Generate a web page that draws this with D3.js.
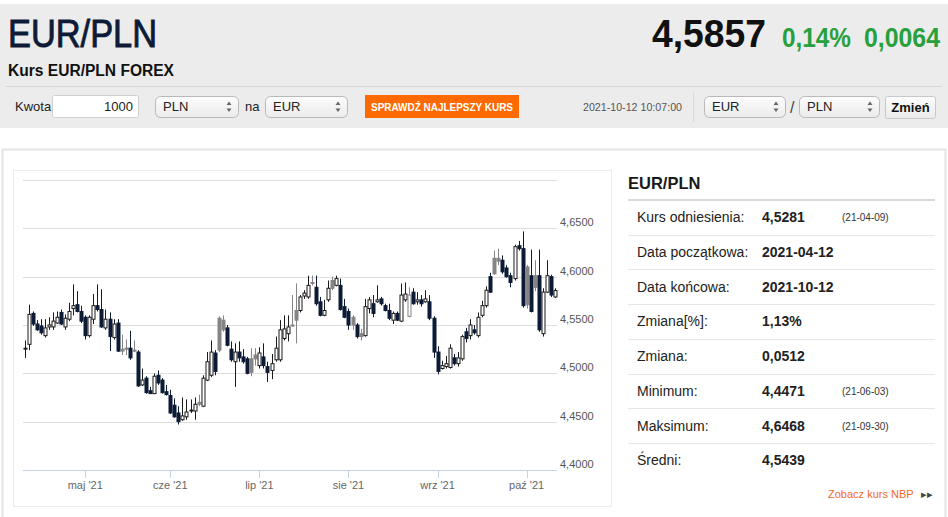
<!DOCTYPE html>
<html><head><meta charset="utf-8">
<script src="https://cdn.jsdelivr.net/npm/d3@7"></script>
<style>html,body{margin:0;padding:0;background:#fff;}svg{display:block;font-family:"Liberation Sans",Arial,sans-serif;}</style>
</head><body><svg id="c" width="948" height="517"></svg>
<script>
// ---------- data ----------
const firstDay = "2021-04-12", lastDay = "2021-10-12";
const openV = [4.525,4.530,4.562,4.551,4.549,4.539,4.548,4.548,4.552,4.563,
4.548,4.556,4.567,4.571,4.564,4.558,4.539,4.556,4.570,4.566,
4.547,4.556,4.537,4.552,4.525,4.526,4.526,4.524,4.522,4.488,
4.495,4.482,4.479,4.498,4.493,4.481,4.477,4.467,4.459,4.452,
4.455,4.461,4.461,4.470,4.466,4.493,4.498,4.521,4.557,4.555,
4.547,4.525,4.512,4.522,4.517,4.515,4.515,4.519,4.508,4.517,
4.507,4.503,4.514,4.514,4.536,4.541,4.550,4.565,4.565,4.580,
4.579,4.594,4.589,4.574,4.560,4.576,4.596,4.591,4.591,4.569,
4.564,4.558,4.550,4.541,4.539,4.567,4.572,4.574,4.577,4.570,
4.565,4.555,4.562,4.554,4.576,4.559,4.584,4.574,4.576,4.574,
4.574,4.557,4.522,4.505,4.507,4.506,4.516,4.510,4.515,4.543,
4.539,4.545,4.539,4.560,4.570,4.600,4.619,4.619,4.617,4.609,
4.601,4.598,4.632,4.629,4.610,4.601,4.601,4.601,4.541,4.584,
4.600,4.579];
const highV = [4.534,4.571,4.564,4.555,4.556,4.556,4.558,4.563,4.564,4.566,
4.561,4.573,4.592,4.585,4.570,4.560,4.560,4.582,4.592,4.587,
4.566,4.563,4.556,4.556,4.540,4.535,4.544,4.534,4.524,4.505,
4.497,4.486,4.500,4.503,4.495,4.488,4.483,4.474,4.466,4.475,
4.473,4.473,4.475,4.478,4.498,4.522,4.534,4.524,4.559,4.560,
4.550,4.533,4.531,4.533,4.525,4.517,4.526,4.526,4.527,4.531,
4.512,4.520,4.538,4.555,4.560,4.560,4.581,4.593,4.581,4.586,
4.601,4.601,4.601,4.579,4.576,4.596,4.600,4.601,4.598,4.577,
4.567,4.560,4.552,4.546,4.577,4.579,4.581,4.591,4.579,4.572,
4.572,4.564,4.564,4.593,4.594,4.589,4.588,4.584,4.581,4.586,
4.581,4.559,4.528,4.513,4.518,4.530,4.520,4.522,4.540,4.547,
4.556,4.550,4.563,4.575,4.590,4.604,4.627,4.629,4.622,4.612,
4.604,4.633,4.637,4.6468,4.612,4.628,4.617,4.628,4.588,4.617,
4.602,4.588];
const lowV = [4.516,4.524,4.549,4.544,4.540,4.537,4.545,4.545,4.551,4.550,
4.545,4.554,4.560,4.563,4.552,4.535,4.537,4.551,4.564,4.547,
4.545,4.523,4.535,4.522,4.519,4.519,4.514,4.522,4.486,4.487,
4.479,4.479,4.479,4.488,4.479,4.477,4.458,4.454,4.4471,4.451,
4.452,4.459,4.452,4.466,4.465,4.492,4.496,4.498,4.522,4.543,
4.528,4.512,4.486,4.512,4.510,4.499,4.497,4.508,4.505,4.505,
4.491,4.494,4.512,4.512,4.534,4.533,4.548,4.531,4.563,4.577,
4.577,4.591,4.570,4.559,4.559,4.574,4.586,4.590,4.565,4.557,
4.545,4.545,4.536,4.534,4.538,4.562,4.558,4.573,4.570,4.564,
4.555,4.551,4.554,4.553,4.574,4.558,4.571,4.571,4.569,4.573,
4.555,4.516,4.499,4.504,4.505,4.505,4.508,4.507,4.513,4.532,
4.535,4.540,4.537,4.558,4.568,4.583,4.602,4.612,4.603,4.599,
4.589,4.596,4.627,4.568,4.567,4.563,4.585,4.543,4.538,4.583,
4.579,4.578];
const closeV = [4.526,4.561,4.551,4.545,4.542,4.547,4.550,4.554,4.558,4.551,
4.557,4.564,4.570,4.564,4.554,4.539,4.558,4.570,4.566,4.548,
4.556,4.538,4.551,4.523,4.523,4.525,4.516,4.523,4.487,4.493,
4.480,4.479,4.497,4.490,4.480,4.478,4.459,4.455,4.450,4.456,
4.460,4.462,4.468,4.468,4.495,4.512,4.522,4.502,4.524,4.545,
4.529,4.514,4.522,4.516,4.512,4.500,4.501,4.515,4.521,4.508,
4.501,4.510,4.526,4.545,4.546,4.548,4.549,4.555,4.579,4.583,
4.591,4.593,4.572,4.560,4.565,4.588,4.588,4.598,4.566,4.558,
4.550,4.550,4.538,4.538,4.569,4.576,4.562,4.576,4.572,4.565,
4.557,4.562,4.555,4.581,4.582,4.581,4.572,4.576,4.572,4.577,
4.557,4.522,4.502,4.508,4.510,4.526,4.510,4.516,4.538,4.536,
4.550,4.542,4.558,4.570,4.586,4.584,4.603,4.616,4.605,4.600,
4.594,4.631,4.629,4.570,4.571,4.564,4.589,4.545,4.584,4.601,
4.581,4.5857];
const gridValues = [4.40,4.45,4.50,4.55,4.60,4.65,4.70];
const labeledValues = [4.40,4.45,4.50,4.55,4.60,4.65];
const monthTickDates = ["2021-05-03","2021-06-01","2021-07-01","2021-08-02","2021-09-01","2021-10-01"];
const monthTickLabels = ["maj '21","cze '21","lip '21","sie '21","wrz '21","paź '21"];
const statLabels = ["Kurs odniesienia:","Data początkowa:","Data końcowa:","Zmiana[%]:","Zmiana:","Minimum:","Maksimum:","Średni:"];
const statValues = ["4,5281","2021-04-12","2021-10-12","1,13%","0,0512","4,4471","4,6468","4,5439"];
const statDates = ["(21-04-09)","","","","","(21-06-03)","(21-09-30)",""];

// ---------- setup ----------
const svg = d3.select("#c");
const fmtDay = d3.timeFormat("%Y-%m-%d"), parseDay = d3.timeParse("%Y-%m-%d");
const days = d3.timeDay.range(parseDay(firstDay), d3.timeDay.offset(parseDay(lastDay),1))
  .filter(d => d.getDay() !== 0 && d.getDay() !== 6).map(fmtDay);
const candles = days.map((d,i) => ({d, o:openV[i], h:highV[i], l:lowV[i], c:closeV[i], pc: i ? closeV[i-1] : openV[i]}));
const pl = d3.formatLocale({decimal:",", thousands:" ", grouping:[3], currency:["",""]});
const f4 = pl.format(".4f");

// ---------- header ----------
svg.append("rect").attr("x",0).attr("y",4).attr("width",948).attr("height",124).attr("fill","#ececec");
const narrow = '"Liberation Sans Narrow","Liberation Sans",Arial,sans-serif';
svg.append("text").attr("x",8).attr("y",47).attr("font-family",narrow).attr("font-size",39)
  .attr("fill","#0d1b38").attr("stroke","#0d1b38").attr("stroke-width",0.9)
  .attr("textLength",149).attr("lengthAdjust","spacingAndGlyphs").text("EUR/PLN");
svg.append("text").attr("x",8).attr("y",76).attr("font-family",narrow).attr("font-weight","bold").attr("font-size",16)
  .attr("fill","#111").attr("textLength",166).attr("lengthAdjust","spacingAndGlyphs").text("Kurs EUR/PLN FOREX");
svg.append("text").attr("x",652).attr("y",47).attr("font-family",narrow).attr("font-weight","bold").attr("font-size",39)
  .attr("fill","#111").attr("textLength",114).attr("lengthAdjust","spacingAndGlyphs").text("4,5857");
svg.append("text").attr("x",782).attr("y",47).attr("font-family",narrow).attr("font-weight","bold").attr("font-size",27)
  .attr("fill","#27a03d").attr("textLength",69).attr("lengthAdjust","spacingAndGlyphs").text("0,14%");
svg.append("text").attr("x",864).attr("y",47).attr("font-family",narrow).attr("font-weight","bold").attr("font-size",27)
  .attr("fill","#27a03d").attr("textLength",76).attr("lengthAdjust","spacingAndGlyphs").text("0,0064");
svg.append("line").attr("x1",6).attr("x2",942).attr("y1",86.5).attr("y2",86.5).attr("stroke","#d6d6d6");

// form row
const defs = svg.append("defs");
const lg = defs.append("linearGradient").attr("id","sg").attr("x1",0).attr("x2",0).attr("y1",0).attr("y2",1);
lg.append("stop").attr("offset","0").attr("stop-color","#fdfdfd");
lg.append("stop").attr("offset","1").attr("stop-color","#ebebeb");
svg.append("text").attr("x",15).attr("y",111).attr("font-family",narrow).attr("font-size",13).attr("fill","#222").text("Kwota");
svg.append("rect").attr("x",52.5).attr("y",95.5).attr("width",86).attr("height",22).attr("rx",2).attr("fill","#fff").attr("stroke","#cfcfcf");
svg.append("text").attr("x",133).attr("y",111).attr("text-anchor","end").attr("font-family",narrow).attr("font-size",13).attr("fill","#222").text("1000");
function selectBox(x, w, label){
  const g = svg.append("g");
  g.append("rect").attr("x",x+0.5).attr("y",96.5).attr("width",w).attr("height",21).attr("rx",5)
    .attr("fill","url(#sg)").attr("stroke","#b9b9b9");
  g.append("text").attr("x",x+8).attr("y",111).attr("font-family",narrow).attr("font-size",13).attr("fill","#222").text(label);
  const ax = x + w - 9;
  g.append("path").attr("d",`M${ax-2.5},105 L${ax},101.5 L${ax+2.5},105 Z M${ax-2.5},108.5 L${ax},112 L${ax+2.5},108.5 Z`).attr("fill","#666");
}
selectBox(155, 83, "PLN");
svg.append("text").attr("x",245).attr("y",111).attr("font-family",narrow).attr("font-size",13).attr("fill","#222").text("na");
selectBox(265, 82, "EUR");
svg.append("rect").attr("x",365).attr("y",95).attr("width",154).attr("height",23).attr("fill","#ff6a00");
svg.append("text").attr("x",442).attr("y",110.5).attr("text-anchor","middle").attr("font-family",narrow).attr("font-weight","bold")
  .attr("font-size",11).attr("fill","#fff").attr("textLength",142).attr("lengthAdjust","spacingAndGlyphs").text("SPRAWDŹ NAJLEPSZY KURS");
svg.append("text").attr("x",583).attr("y",111).attr("font-family",narrow).attr("font-size",11.5).attr("fill","#555")
  .attr("textLength",99).attr("lengthAdjust","spacingAndGlyphs").text("2021-10-12 10:07:00");
svg.append("line").attr("x1",693.5).attr("x2",693.5).attr("y1",92).attr("y2",122).attr("stroke","#d9d9d9");
selectBox(704, 81, "EUR");
svg.append("text").attr("x",790).attr("y",113).attr("font-family",narrow).attr("font-size",16).attr("fill","#444").text("/");
selectBox(799, 80, "PLN");
svg.append("rect").attr("x",885.5).attr("y",96.5).attr("width",50).attr("height",22).attr("rx",2).attr("fill","url(#sg)").attr("stroke","#c8c8c8");
svg.append("text").attr("x",910.5).attr("y",112).attr("text-anchor","middle").attr("font-family",narrow).attr("font-weight","bold")
  .attr("font-size",13).attr("fill","#111").text("Zmień");

// ---------- content frame ----------
svg.append("rect").attr("x",2.5).attr("y",149.5).attr("width",943).attr("height",380).attr("fill","#fff").attr("stroke","#e4e4e4").attr("stroke-width",2);
svg.append("rect").attr("x",13.5).attr("y",170.5).attr("width",598).attr("height",336).attr("fill","#fff").attr("stroke","#ebebeb");

// ---------- chart ----------
const x = d3.scalePoint().domain(days).range([24.5, 555]);
const y = d3.scaleLinear().domain([4.40, 4.70]).range([470, 180]);
const plotL = 23, plotR = 557;

svg.append("g").selectAll("line").data(gridValues).join("line")
  .attr("x1",plotL).attr("x2",plotR).attr("y1",d=>Math.round(y(d))+0.5).attr("y2",d=>Math.round(y(d))+0.5)
  .attr("stroke","#dedede").attr("stroke-width",1);

svg.append("g").selectAll("text").data(labeledValues).join("text")
  .attr("x",560).attr("y",d=>y(d)-2).attr("font-size",11).attr("fill","#555").text(d=>f4(d));

// x axis
svg.append("line").attr("x1",plotL).attr("x2",plotR).attr("y1",470.5).attr("y2",470.5).attr("stroke","#c4d2e2");
const xt = svg.append("g");
xt.selectAll("line").data(monthTickDates).join("line")
  .attr("x1",d=>Math.round(x(d))+0.5).attr("x2",d=>Math.round(x(d))+0.5).attr("y1",470).attr("y2",478).attr("stroke","#c4d2e2");
xt.selectAll("text").data(monthTickDates).join("text")
  .attr("x",d=>x(d)).attr("y",489).attr("text-anchor","middle").attr("font-size",11).attr("fill","#666")
  .text((d,i)=>monthTickLabels[i]);

// candles
const NAVY = "#0c1b36", GRAY = "#858585", BLACK = "#1b1b1b";
function style(k){
  const up = k.c >= k.o, riseVsPrev = k.c >= k.pc;
  if (up) return {fill:"#fff", stroke: riseVsPrev ? BLACK : GRAY};
  return {fill: riseVsPrev ? GRAY : NAVY, stroke: riseVsPrev ? GRAY : NAVY};
}
const cg = svg.append("g").selectAll("g").data(candles).join("g");
cg.append("line")
  .attr("x1",k=>Math.round(x(k.d))+0.5).attr("x2",k=>Math.round(x(k.d))+0.5)
  .attr("y1",k=>y(k.h)).attr("y2",k=>y(k.l))
  .attr("stroke",k=>style(k).stroke).attr("stroke-width",1);
cg.append("rect")
  .attr("x",k=>Math.round(x(k.d))-1)
  .attr("width",3)
  .attr("y",k=>y(Math.max(k.o,k.c)))
  .attr("height",k=>Math.max(1, Math.abs(y(k.o)-y(k.c))))
  .attr("fill",k=>style(k).fill).attr("stroke",k=>style(k).stroke).attr("stroke-width",1);

// ---------- stats panel ----------
svg.append("text").attr("x",628).attr("y",189).attr("font-size",16.5).attr("font-weight","bold").attr("fill","#1a1a1a").text("EUR/PLN");
svg.append("line").attr("x1",628).attr("x2",935).attr("y1",200).attr("y2",200).attr("stroke","#d9d9d9").attr("stroke-width",2);
const rowY = d3.scaleBand().domain(d3.range(statLabels.length)).range([200, 477.6]);
const rows = svg.append("g").selectAll("g").data(statLabels).join("g");
rows.filter((d,i)=>i < statLabels.length-1).append("line")
  .attr("x1",628).attr("x2",935).attr("y1",(d,i)=>Math.round(rowY(i)+rowY.bandwidth())+0.5).attr("y2",(d,i)=>Math.round(rowY(i)+rowY.bandwidth())+0.5)
  .attr("stroke","#e6e6e6");
rows.append("text").attr("x",637).attr("y",(d,i)=>rowY(i)+rowY.bandwidth()/2+5).attr("font-size",14).attr("fill","#222").text(d=>d);
rows.append("text").attr("x",762).attr("y",(d,i)=>rowY(i)+rowY.bandwidth()/2+5).attr("font-size",14).attr("font-weight","bold").attr("fill","#222").text((d,i)=>statValues[i]);
rows.append("text").attr("x",842).attr("y",(d,i)=>rowY(i)+rowY.bandwidth()/2+4).attr("font-size",10).attr("fill","#333").text((d,i)=>statDates[i]);

svg.append("text").attr("x",828).attr("y",498).attr("font-size",11).attr("fill","#f06a1e").text("Zobacz kurs NBP");
svg.append("text").attr("x",921).attr("y",498).attr("font-size",11).attr("fill","#444").text("▸▸");
</script></body></html>
